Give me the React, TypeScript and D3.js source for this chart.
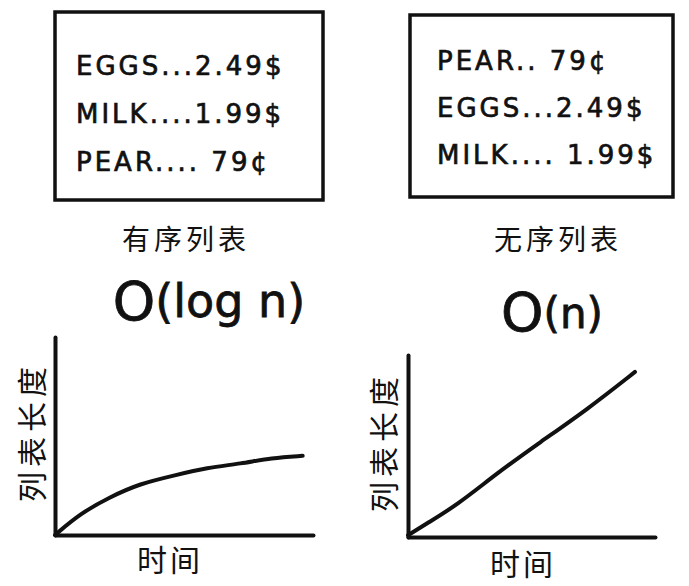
import React, { useEffect, useRef } from 'react';
import * as d3 from 'd3';

// sorted list (left) and unsorted list (right)
const sortedRows = ['EGGS...2.49$', 'MILK....1.99$', 'PEAR.... 79¢'];
const unsortedRows = ['PEAR.. 79¢', 'EGGS...2.49$', 'MILK.... 1.99$'];
const listTitles = ['有序列表', '无序列表'];
const bigOLabels = [['O', '(log n)'], ['O', '(n)']];
const yAxisLabel = '列表长度';
const xAxisLabel = '时间';

// time (x) vs list length (y), both on a 0..10 scale
const logX = [0, 1.0, 2.1, 3.3, 4.6, 5.9, 7.2, 8.4, 9.6];
const logY = [0, 1.1, 1.9, 2.6, 3.0, 3.4, 3.6, 3.9, 4.0];
const linX = [0, 0.77, 1.98, 3.6, 5.34, 7.25, 9.19];
const linY = [0.1, 0.75, 1.75, 3.5, 5.2, 7.0, 9.07];

const W = 689;
const H = 586;
const INK = '#111';
const LATIN = '"DejaVu Sans", "Liberation Sans", sans-serif';
const CJK = '"Noto Sans CJK SC", sans-serif';

const App = () => {
  const svgRef = useRef<SVGSVGElement>(null);

  useEffect(() => {
    const svg = d3.select(svgRef.current).attr('width', W).attr('height', H);
    svg.selectAll('*').remove();
    svg.append('rect').attr('width', W).attr('height', H).attr('fill', '#fff');

    // price list boxes
    const boxes = [
      { x: 55, y: 12, w: 268, h: 188, rows: sortedRows, tx: 76, ty: 75, gap: 48 },
      { x: 410, y: 15, w: 263, h: 182, rows: unsortedRows, tx: 437, ty: 70, gap: 47 },
    ];
    boxes.forEach((b, i) => {
      svg.append('rect')
        .attr('x', b.x).attr('y', b.y)
        .attr('width', b.w).attr('height', b.h)
        .attr('fill', 'none')
        .attr('stroke', INK)
        .attr('stroke-width', 3.5);

      svg.append('g')
        .selectAll('text')
        .data(b.rows)
        .join('text')
        .attr('x', b.tx)
        .attr('y', (d, j) => b.ty + j * b.gap)
        .attr('font-family', LATIN)
        .attr('font-size', 26)
        .attr('letter-spacing', 3)
        .attr('fill', INK)
        .attr('stroke', INK)
        .attr('stroke-width', 0.7)
        .text(d => d);

      svg.append('text')
        .attr('x', i === 0 ? 186 : 558)
        .attr('y', 250)
        .attr('text-anchor', 'middle')
        .attr('font-family', CJK)
        .attr('font-size', 28)
        .attr('letter-spacing', 4)
        .attr('fill', INK)
        .text(listTitles[i]);
    });

    // the two complexity charts
    const charts = [
      { left: 55, right: 313, top: 337, bottom: 535, xs: logX, ys: logY, title: bigOLabels[0], tx: 209, ty: 320, small: 46, ylx: 30, yly: 432, xlx: 170, xly: 571 },
      { left: 408, right: 655, top: 355, bottom: 537, xs: linX, ys: linY, title: bigOLabels[1], tx: 552, ty: 331, small: 42, ylx: 382, yly: 442, xlx: 523, xly: 575 },
    ];

    charts.forEach(c => {
      const x = d3.scaleLinear().domain([0, 10]).range([c.left, c.right]);
      const y = d3.scaleLinear().domain([0, 10]).range([c.bottom, c.top]);

      const g = svg.append('g');

      // axes, drawn as bare thick strokes
      g.append('g')
        .attr('transform', `translate(0,${c.bottom})`)
        .call(d3.axisBottom(x).ticks(0).tickSizeOuter(0))
        .call(a => a.select('.domain').attr('stroke', INK).attr('stroke-width', 4).attr('stroke-linecap', 'round'));
      g.append('g')
        .attr('transform', `translate(${c.left},0)`)
        .call(d3.axisLeft(y).ticks(0).tickSizeOuter(0))
        .call(a => a.select('.domain').attr('stroke', INK).attr('stroke-width', 4).attr('stroke-linecap', 'round'));

      const line = d3.line<number>()
        .x((d, i) => x(c.xs[i]))
        .y(d => y(d))
        .curve(d3.curveBasis);

      g.append('path')
        .datum(c.ys)
        .attr('d', line)
        .attr('fill', 'none')
        .attr('stroke', INK)
        .attr('stroke-width', 4)
        .attr('stroke-linecap', 'round');

      const t = g.append('text')
        .attr('x', c.tx)
        .attr('y', c.ty)
        .attr('text-anchor', 'middle')
        .attr('font-family', LATIN)
        .attr('fill', INK)
        .attr('stroke', INK)
        .attr('stroke-width', 0.8);
      t.append('tspan').attr('font-size', 54).text(c.title[0]);
      t.append('tspan').attr('font-size', c.small).attr('dy', -3).text(c.title[1]);

      g.append('text')
        .attr('transform', `translate(${c.ylx},${c.yly}) rotate(-90)`)
        .attr('text-anchor', 'middle')
        .attr('dominant-baseline', 'central')
        .attr('font-family', CJK)
        .attr('font-size', 30)
        .attr('letter-spacing', 5)
        .attr('fill', INK)
        .text(yAxisLabel);

      g.append('text')
        .attr('x', c.xlx)
        .attr('y', c.xly)
        .attr('text-anchor', 'middle')
        .attr('font-family', CJK)
        .attr('font-size', 30)
        .attr('letter-spacing', 3)
        .attr('fill', INK)
        .text(xAxisLabel);
    });
  }, []);

  return (
    <svg ref={svgRef} style={{ position: 'absolute', left: 0, top: 0, display: 'block' }}></svg>
  );
};

export default App;
